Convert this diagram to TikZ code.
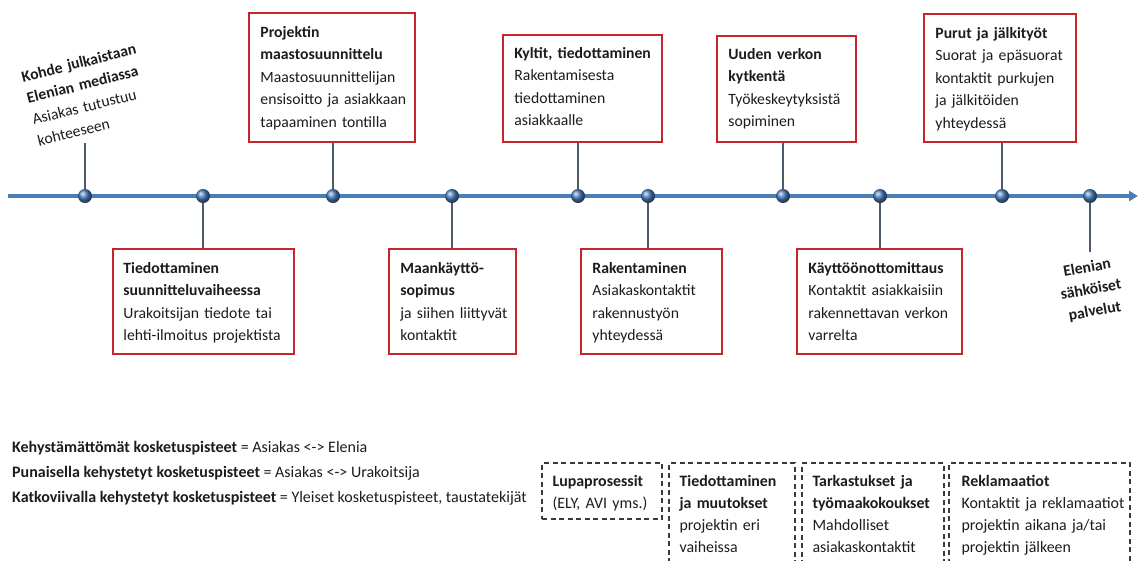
\documentclass[tikz,border=0pt]{standalone}
\usepackage{fontspec}
\setmainfont{Carlito}
\usetikzlibrary{arrows.meta}

\definecolor{axisblue}{HTML}{4A7EBB}
\definecolor{stemcol}{HTML}{4D5B6B}
\definecolor{framered}{HTML}{C8252A}
\definecolor{inkcol}{HTML}{1C1C1C}
\definecolor{dashcol}{HTML}{3A3A3A}

% fixed-height strut so that the first baseline sits at a known depth
\newcommand{\lstrut}{\rule{0pt}{11pt}}

\tikzset{
  axisline/.style={draw=axisblue, line width=3.6pt, -{Triangle[length=9pt,width=10pt]}},
  stem/.style={draw=stemcol, line width=2.4pt},
  ballpt/.style={circle, minimum size=14pt, inner sep=0pt, shading=ball, ball color=axisblue},
  redbox/.style={draw=framered, line width=1.5pt, fill=white, inner sep=0pt},
  dashbox/.style={draw=dashcol, line width=1.3pt, dash pattern=on 5pt off 3.5pt, inner sep=0pt},
  boxtext/.style={anchor=north west, inner sep=0pt, text width=230pt, align=left, text=inkcol,
    font=\fontsize{15.7}{22.5}\selectfont},
  smalltext/.style={anchor=north west, inner sep=0pt, text width=200pt, align=left, text=inkcol,
    font=\fontsize{15.9}{22}\selectfont},
  legendtext/.style={anchor=base west, inner sep=0pt, text=inkcol, font=\fontsize{16}{18}\selectfont},
  freetext/.style={inner sep=0pt, text=inkcol, font=\fontsize{15.7}{22}\selectfont},
}

\begin{document}
\begin{tikzpicture}[x=1pt,y=-1pt]
\useasboundingbox (0,0) rectangle (1139,560);
\clip (0,0) rectangle (1139,560);

% time axis
\coordinate (axstart) at (8,196);
\coordinate (axend) at (1138,196);
\draw[axisline] (axstart) -- (axend);

% positions of the points on the axis
\foreach \n/\x in {1/85,2/203,3/333,4/452,5/578,6/648,7/783,8/880,9/1002,10/1090}
  \coordinate (p\n) at (\x,196);

% boxes above the axis
\node[redbox, minimum width=166pt, minimum height=129pt] (b3) at (332,77.5) {};
\node[redbox, minimum width=159pt, minimum height=107pt] (b5) at (582.5,88.5) {};
\node[redbox, minimum width=139pt, minimum height=106pt] (b7) at (786.5,89) {};
\node[redbox, minimum width=152pt, minimum height=128pt] (b9) at (1000,78) {};

% boxes below the axis
\node[redbox, minimum width=181pt, minimum height=105pt] (b2) at (203.5,301.5) {};
\node[redbox, minimum width=127pt, minimum height=105pt] (b4) at (452.5,301.5) {};
\node[redbox, minimum width=141pt, minimum height=105pt] (b6) at (651.5,301.5) {};
\node[redbox, minimum width=165pt, minimum height=105pt] (b8) at (879.5,301.5) {};

% box texts
\node[boxtext] (t3) at ([shift={(12,14)}]b3.north west)
  {\lstrut\textbf{Projektin}\\\textbf{maastosuunnittelu}\\Maastosuunnittelijan\\ensisoitto ja asiakkaan\\tapaaminen tontilla};
\node[boxtext] (t5) at ([shift={(12,13)}]b5.north west)
  {\lstrut\textbf{Kyltit, tiedottaminen}\\Rakentamisesta\\tiedottaminen\\asiakkaalle};
\node[boxtext] (t7) at ([shift={(12,13)}]b7.north west)
  {\lstrut\textbf{Uuden verkon}\\\textbf{kytkentä}\\Työkeskeytyksistä\\sopiminen};
\node[boxtext] (t9) at ([shift={(12,14)}]b9.north west)
  {\lstrut\textbf{Purut ja jälkityöt}\\Suorat ja epäsuorat\\kontaktit purkujen\\ja jälkitöiden\\yhteydessä};
\node[boxtext] (t2) at ([shift={(11,14)}]b2.north west)
  {\lstrut\textbf{Tiedottaminen}\\\textbf{suunnitteluvaiheessa}\\Urakoitsijan tiedote tai\\lehti-ilmoitus projektista};
\node[boxtext] (t4) at ([shift={(12,14)}]b4.north west)
  {\lstrut\textbf{Maankäyttö-}\\\textbf{sopimus}\\ja siihen liittyvät\\kontaktit};
\node[boxtext] (t6) at ([shift={(12,14)}]b6.north west)
  {\lstrut\textbf{Rakentaminen}\\Asiakaskontaktit\\rakennustyön\\yhteydessä};
\node[boxtext] (t8) at ([shift={(12,14)}]b8.north west)
  {\lstrut\textbf{Käyttöönottomittaus}\\Kontaktit asiakkaisiin\\rakennettavan verkon\\varrelta};

% free-standing labels
\node[freetext, rotate=14, text width=124pt, align=left]
  (kohde) at (90,94) {\textbf{Kohde julkaistaan}\\\textbf{Elenian mediassa}\\Asiakas tutustuu\\kohteeseen};
\node[freetext, rotate=10, text width=80pt, align=center, font=\bfseries\fontsize{15.7}{22}\selectfont]
  (elenia) at (1091,290) {Elenian\\sähköiset\\palvelut};
\coordinate (k1) at (85,143);
\coordinate (k10) at (1090,252);

% stems
\draw[stem] (p1) -- (k1);
\draw[stem] (p3) -- (p3 |- b3.south);
\draw[stem] (p5) -- (p5 |- b5.south);
\draw[stem] (p7) -- (p7 |- b7.south);
\draw[stem] (p9) -- (p9 |- b9.south);
\draw[stem] (p2) -- (p2 |- b2.north);
\draw[stem] (p4) -- (p4 |- b4.north);
\draw[stem] (p6) -- (p6 |- b6.north);
\draw[stem] (p8) -- (p8 |- b8.north);
\draw[stem] (p10) -- (k10);

% points on the axis
\foreach \n in {1,...,10}
  \node[ballpt] (d\n) at (p\n) {};

% legend
\node[legendtext] (l1) at (12,452.5) {\textbf{Kehystämättömät kosketuspisteet} = Asiakas <-> Elenia};
\node[legendtext] (l2) at (12,477.5) {\textbf{Punaisella kehystetyt kosketuspisteet} = Asiakas <-> Urakoitsija};
\node[legendtext] (l3) at (12,502.5) {\textbf{Katkoviivalla kehystetyt kosketuspisteet} = Yleiset kosketuspisteet, taustatekijät};

% dashed background boxes
\node[dashbox, minimum width=120pt, minimum height=56pt] (g1) at (602,491) {};
\node[dashbox, minimum width=126pt, minimum height=112pt] (g2) at (732,519) {};
\node[dashbox, minimum width=142pt, minimum height=112pt] (g3) at (873,519) {};
\node[dashbox, minimum width=181pt, minimum height=112pt] (g4) at (1039.5,519) {};

\node[smalltext] (s1) at ([shift={(11,13)}]g1.north west)
  {\lstrut\textbf{Lupaprosessit}\\(ELY, AVI yms.)};
\node[smalltext] (s2) at ([shift={(11,13)}]g2.north west)
  {\lstrut\textbf{Tiedottaminen}\\\textbf{ja muutokset}\\projektin eri\\vaiheissa};
\node[smalltext] (s3) at ([shift={(11,13)}]g3.north west)
  {\lstrut\textbf{Tarkastukset ja}\\\textbf{työmaakokoukset}\\Mahdolliset\\asiakaskontaktit};
\node[smalltext] (s4) at ([shift={(13,13)}]g4.north west)
  {\lstrut\textbf{Reklamaatiot}\\Kontaktit ja reklamaatiot\\projektin aikana ja/tai\\projektin jälkeen};
\end{tikzpicture}
\end{document}
